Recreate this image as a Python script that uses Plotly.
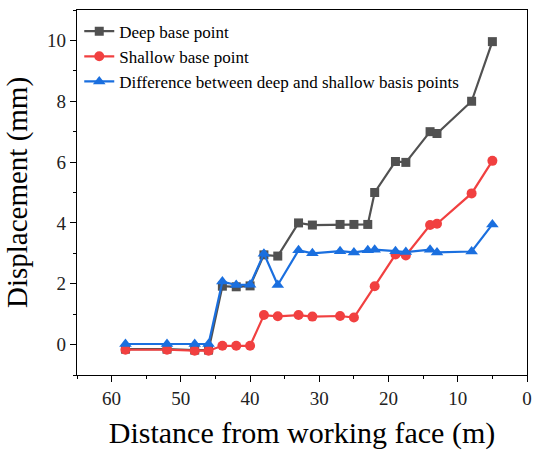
import plotly.graph_objects as go

# Distance from working face (m)
x_deep = [58, 52, 48, 46, 44, 42, 40, 38, 36, 33, 31, 27, 25, 23, 22, 19, 17.5, 14, 13, 8, 5]
deep = [-0.15, -0.15, -0.18, -0.18, 1.92, 1.90, 1.93, 2.95, 2.91, 4.0, 3.93, 3.95, 3.95, 3.95,
        5.0, 6.02, 5.99, 7.0, 6.94, 8.0, 9.96]

x_shallow = [58, 52, 48, 46, 44, 42, 40, 38, 36, 33, 31, 27, 25, 22, 19, 17.5, 14, 13, 8, 5]
shallow = [-0.17, -0.17, -0.2, -0.2, -0.04, -0.04, -0.04, 0.97, 0.93, 0.97, 0.92, 0.94, 0.89,
           1.92, 2.96, 2.93, 3.93, 3.97, 4.97, 6.04]

x_diff = [58, 52, 48, 46, 44, 42, 40, 38, 36, 33, 31, 27, 25, 23, 22, 19, 17.5, 14, 13, 8, 5]
diff = [0.02, 0.02, 0.02, 0.02, 2.07, 1.96, 1.97, 2.99, 1.96, 3.1, 3.0, 3.07, 3.03, 3.1,
        3.12, 3.07, 3.04, 3.12, 3.03, 3.06, 3.95]

x_ticks = [60, 50, 40, 30, 20, 10, 0]
y_ticks = [0, 2, 4, 6, 8, 10]

FF = "Liberation Serif"

fig = go.Figure()
fig.add_trace(go.Scatter(x=x_deep, y=deep, mode="lines+markers", name="Deep base point",
                         line=dict(color="#515151", width=2.2),
                         marker=dict(symbol="square", size=9, color="#515151")))
fig.add_trace(go.Scatter(x=x_shallow, y=shallow, mode="lines+markers", name="Shallow base point",
                         line=dict(color="#F14040", width=2.2),
                         marker=dict(symbol="circle", size=10, color="#F14040")))
fig.add_trace(go.Scatter(x=x_diff, y=diff, mode="lines+markers",
                         name="Difference between deep and shallow basis points",
                         line=dict(color="#1A6FDF", width=2.2),
                         marker=dict(symbol="triangle-up", size=11, color="#1A6FDF")))

axis_common = dict(showline=True, linecolor="black", linewidth=1.3, mirror=True,
                   ticks="outside", ticklen=6, tickwidth=1.2, tickcolor="black",
                   showgrid=False, zeroline=False,
                   tickfont=dict(family=FF, size=19, color="#222"))

fig.update_xaxes(range=[65, 0], tickvals=x_ticks,
                 minor=dict(ticks="outside", ticklen=3, tickwidth=1, tickcolor="black", dtick=5),
                 title=dict(text="Distance from working face (m)",
                            font=dict(family=FF, size=30, color="black"), standoff=14),
                 **axis_common)
fig.update_yaxes(range=[-1, 11], tickvals=y_ticks,
                 minor=dict(ticks="outside", ticklen=3, tickwidth=1, tickcolor="black", dtick=1),
                 title=dict(text="Displacement (mm)",
                            font=dict(family=FF, size=29, color="black"), standoff=10),
                 **axis_common)

fig.update_layout(width=537, height=450,
                  font=dict(family=FF, color="black"),
                  margin=dict(l=77, r=5, t=10, b=75),
                  plot_bgcolor="white", paper_bgcolor="white",
                  legend=dict(x=0.005, y=0.99, xanchor="left", yanchor="top",
                              bgcolor="rgba(0,0,0,0)",
                              font=dict(family=FF, size=17, color="black"),
                              itemwidth=30, tracegroupgap=0))

fig.write_html("out.html")
